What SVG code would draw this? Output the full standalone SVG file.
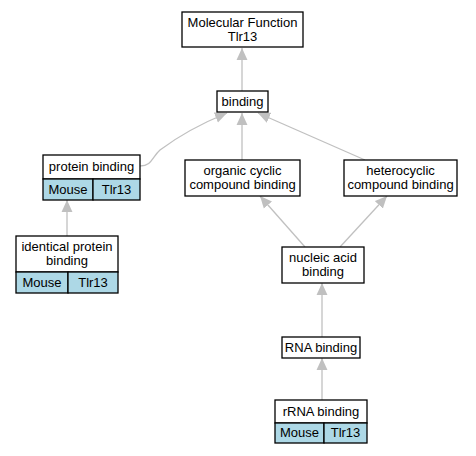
<svg xmlns="http://www.w3.org/2000/svg" width="476" height="456" viewBox="0 0 476 456">
<defs>
<marker id="ah" markerWidth="12" markerHeight="12" refX="11" refY="5" orient="auto" markerUnits="userSpaceOnUse" viewBox="0 0 11 10">
<path d="M0,0 L11,5 L0,10 Z" fill="#c0c0c0"/>
</marker>
<style>
.box{fill:#fff;stroke:#000;stroke-width:1.3}
.blue{fill:#add8e6;stroke:#000;stroke-width:1.3}
text{font-family:"Liberation Sans",Arial,sans-serif;font-size:13px;fill:#000;text-anchor:middle}
.e{fill:none;stroke:#c0c0c0;stroke-width:1.3;marker-end:url(#ah)}
</style>
</defs>
<rect width="476" height="456" fill="#fff"/>
<g id="edges">
<path class="e" d="M242,91 L242,48"/>
<path class="e" d="M140,166 C152,166 152,157 160,150 C180,135 205,122 227,113"/>
<path class="e" d="M242,160 L242,113"/>
<path class="e" d="M365,160 L258,113"/>
<path class="e" d="M305,247 L260,196"/>
<path class="e" d="M340,247 L387,196"/>
<path class="e" d="M322,337 L322,283"/>
<path class="e" d="M322,400 L322,358"/>
<path class="e" d="M67,236 L67,200"/>
</g>
<g id="mf">
<rect class="box" x="182" y="12" width="121" height="35"/>
<text x="242.5" y="27">Molecular Function</text>
<text x="242.5" y="41">Tlr13</text>
</g>
<g id="binding">
<rect class="box" x="217" y="91" width="51" height="21"/>
<text x="242.5" y="106">binding</text>
</g>
<g id="protein">
<rect class="box" x="43" y="155" width="97" height="24"/>
<text x="91.5" y="171">protein binding</text>
<rect class="blue" x="43" y="179" width="50" height="21"/>
<rect class="blue" x="93" y="179" width="47" height="21"/>
<text x="68" y="194">Mouse</text>
<text x="116.5" y="194">Tlr13</text>
</g>
<g id="identical">
<rect class="box" x="16" y="236" width="102" height="36"/>
<text x="67" y="251">identical protein</text>
<text x="67" y="265">binding</text>
<rect class="blue" x="16" y="272" width="52" height="21"/>
<rect class="blue" x="68" y="272" width="50" height="21"/>
<text x="42" y="287">Mouse</text>
<text x="93" y="287">Tlr13</text>
</g>
<g id="organic">
<rect class="box" x="185" y="160" width="115" height="36"/>
<text x="242.5" y="175">organic cyclic</text>
<text x="242.5" y="189">compound binding</text>
</g>
<g id="hetero">
<rect class="box" x="344" y="160" width="113" height="36"/>
<text x="400.5" y="175">heterocyclic</text>
<text x="400.5" y="189">compound binding</text>
</g>
<g id="nucleic">
<rect class="box" x="282" y="247" width="82" height="36"/>
<text x="323" y="262">nucleic acid</text>
<text x="323" y="276">binding</text>
</g>
<g id="rna">
<rect class="box" x="282" y="337" width="78" height="21"/>
<text x="321" y="352">RNA binding</text>
</g>
<g id="rrna">
<rect class="box" x="275" y="400" width="92" height="23"/>
<text x="321" y="416">rRNA binding</text>
<rect class="blue" x="275" y="423" width="49" height="20"/>
<rect class="blue" x="324" y="423" width="43" height="20"/>
<text x="299.5" y="437">Mouse</text>
<text x="345.5" y="437">Tlr13</text>
</g>
</svg>
